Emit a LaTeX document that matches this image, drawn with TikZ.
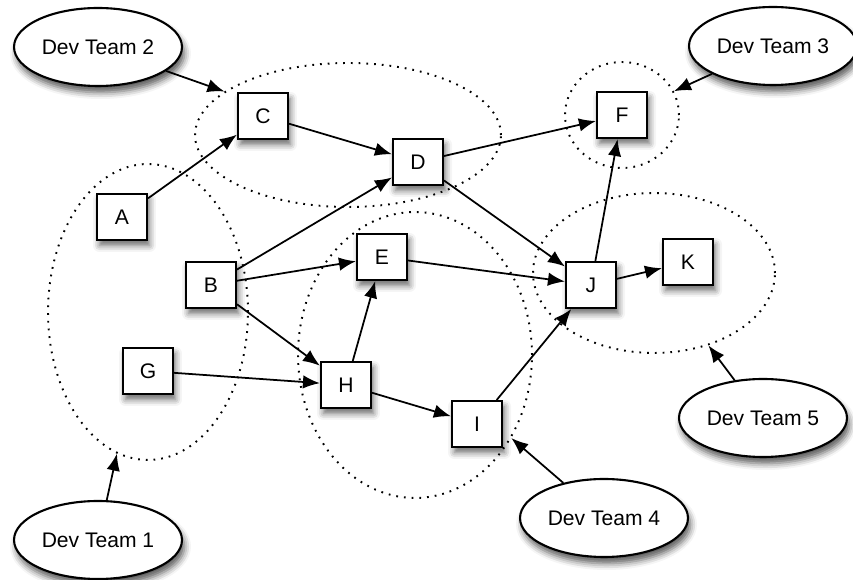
\documentclass[tikz,border=0pt]{standalone}
\usepackage{fontspec}
\setmainfont{Liberation Sans}
\usetikzlibrary{arrows.meta,shapes,shadows.blur}

\begin{document}
\begin{tikzpicture}[x=0.02cm,y=-0.02cm,font=\fontsize{12}{14}\selectfont,
  task/.style={draw,line width=1.2pt,fill=white,minimum width=1cm,minimum height=0.92cm,inner sep=0pt,
    blur shadow={shadow xshift=0.5mm,shadow yshift=-1.1mm,shadow blur radius=1.3mm,shadow opacity=60}},
  team/.style={ellipse,draw,line width=1.2pt,fill=white,minimum width=3.36cm,minimum height=1.56cm,inner sep=0pt,
    blur shadow={shadow xshift=0.5mm,shadow yshift=-1.3mm,shadow blur radius=1.3mm,shadow opacity=65}},
  region/.style={ellipse,draw,line width=1.1pt,dash pattern=on 1pt off 3.4pt,inner sep=0pt},
  dep/.style={-{Latex[length=3.4mm,width=2.7mm]},line width=1pt}]
\useasboundingbox (0,0) rectangle (853,580);

% the dotted team areas
\node[region,minimum width=6.12cm,minimum height=2.88cm] (area2) at (348,135) {};
\node[region,minimum width=2.28cm,minimum height=2.12cm] (area3) at (622,115) {};
\node[region,minimum width=4cm,minimum height=5.92cm] (area1) at (148,312) {};
\node[region,minimum width=4.68cm,minimum height=5.72cm] (area4) at (415,355) {};
\node[region,minimum width=4.84cm,minimum height=3.2cm] (area5) at (654,273) {};

% tasks
\node[task] (A) at (122,217) {A};
\node[task] (B) at (211,285) {B};
\node[task] (C) at (263,116) {C};
\node[task] (D) at (418,162) {D};
\node[task] (E) at (382,257) {E};
\node[task] (F) at (622,115) {F};
\node[task] (G) at (148,371) {G};
\node[task] (H) at (346,385) {H};
\node[task] (I) at (477,424) {I};
\node[task] (J) at (591,285) {J};
\node[task] (K) at (688,262) {K};

% teams
\node[team] (team1) at (98,540) {Dev Team 1};
\node[team] (team2) at (98,47) {Dev Team 2};
\node[team] (team3) at (773,46) {Dev Team 3};
\node[team] (team4) at (604,518) {Dev Team 4};
\node[team] (team5) at (763,418) {Dev Team 5};

% dependencies
\draw[dep] (A) -- (C);
\draw[dep] (C) -- (D);
\draw[dep] (B) -- (D);
\draw[dep] (B) -- (E);
\draw[dep] (B) -- (H);
\draw[dep] (G) -- (H);
\draw[dep] (H) -- (E);
\draw[dep] (H) -- (I);
\draw[dep] (D) -- (F);
\draw[dep] (D) -- (J);
\draw[dep] (E) -- (J);
\draw[dep] (I) -- (J);
\draw[dep] (J) -- (F);
\draw[dep] (J) -- (K);

% who owns what
\draw[dep] (team1) -- (area1);
\draw[dep] (team2) -- (area2);
\draw[dep] (team3) -- (area3);
\draw[dep] (team4) -- (area4);
\draw[dep] (team5) -- (area5);
\end{tikzpicture}
\end{document}
